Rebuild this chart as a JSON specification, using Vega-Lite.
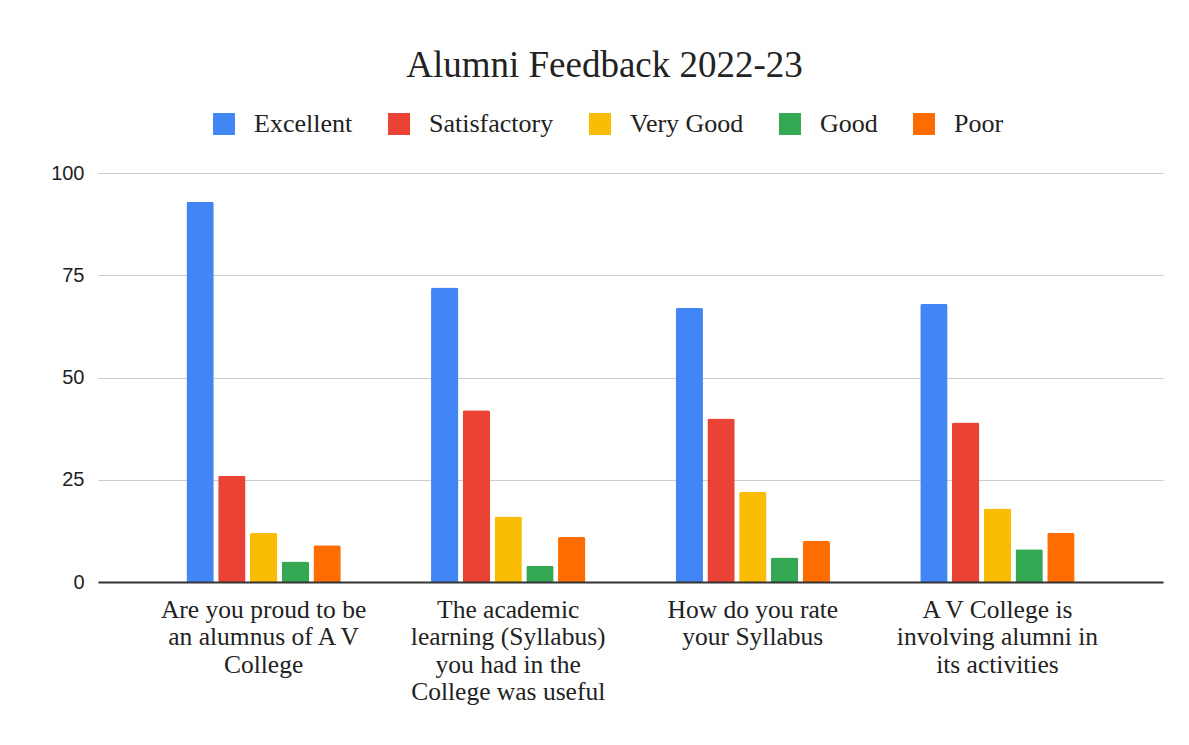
{
  "$schema": "https://vega.github.io/schema/vega-lite/v6.json",
  "width": 1065,
  "height": 409,
  "autosize": {"type": "none"},
  "padding": {"left": 98, "top": 173, "right": 26, "bottom": 163},
  "background": "white",
  "title": {
    "text": "Alumni Feedback 2022-23",
    "font": "Liberation Serif",
    "fontSize": 37,
    "fontWeight": "normal",
    "color": "#222222",
    "anchor": "middle",
    "frame": "group",
    "dx": -26,
    "offset": 26
  },
  "data": {
    "values": [
      {"question": "Are you proud to be an alumnus of A V College", "rating": "Excellent", "count": 93},
      {"question": "Are you proud to be an alumnus of A V College", "rating": "Satisfactory", "count": 26},
      {"question": "Are you proud to be an alumnus of A V College", "rating": "Very Good", "count": 12},
      {"question": "Are you proud to be an alumnus of A V College", "rating": "Good", "count": 5},
      {"question": "Are you proud to be an alumnus of A V College", "rating": "Poor", "count": 9},
      {"question": "The academic learning (Syllabus) you had in the College was useful", "rating": "Excellent", "count": 72},
      {"question": "The academic learning (Syllabus) you had in the College was useful", "rating": "Satisfactory", "count": 42},
      {"question": "The academic learning (Syllabus) you had in the College was useful", "rating": "Very Good", "count": 16},
      {"question": "The academic learning (Syllabus) you had in the College was useful", "rating": "Good", "count": 4},
      {"question": "The academic learning (Syllabus) you had in the College was useful", "rating": "Poor", "count": 11},
      {"question": "How do you rate your Syllabus", "rating": "Excellent", "count": 67},
      {"question": "How do you rate your Syllabus", "rating": "Satisfactory", "count": 40},
      {"question": "How do you rate your Syllabus", "rating": "Very Good", "count": 22},
      {"question": "How do you rate your Syllabus", "rating": "Good", "count": 6},
      {"question": "How do you rate your Syllabus", "rating": "Poor", "count": 10},
      {"question": "A V College is involving alumni in its activities", "rating": "Excellent", "count": 68},
      {"question": "A V College is involving alumni in its activities", "rating": "Satisfactory", "count": 39},
      {"question": "A V College is involving alumni in its activities", "rating": "Very Good", "count": 18},
      {"question": "A V College is involving alumni in its activities", "rating": "Good", "count": 8},
      {"question": "A V College is involving alumni in its activities", "rating": "Poor", "count": 12}
    ]
  },
  "mark": {"type": "bar", "cornerRadiusTopLeft": 2, "cornerRadiusTopRight": 2},
  "encoding": {
    "x": {
      "field": "question",
      "type": "nominal",
      "sort": null,
      "scale": {"paddingInner": 0.369, "paddingOuter": 0.3615},
      "axis": {
        "title": null,
        "labelAngle": 0,
        "ticks": false,
        "domain": true,
        "domainColor": "#333333",
        "domainWidth": 2,
        "labelFont": "Liberation Serif",
        "labelFontSize": 25.5,
        "labelColor": "#222222",
        "labelLineHeight": 27.5,
        "labelPadding": 15,
        "labelLimit": 400,
        "grid": false,
        "zindex": 1,
        "labelExpr": "datum.value == 'Are you proud to be an alumnus of A V College' ? ['Are you proud to be', 'an alumnus of A V', 'College'] : datum.value == 'The academic learning (Syllabus) you had in the College was useful' ? ['The academic', 'learning (Syllabus)', 'you had in the', 'College was useful'] : datum.value == 'How do you rate your Syllabus' ? ['How do you rate', 'your Syllabus'] : ['A V College is', 'involving alumni in', 'its activities']"
      }
    },
    "xOffset": {
      "field": "rating",
      "type": "nominal",
      "sort": ["Excellent", "Satisfactory", "Very Good", "Good", "Poor"],
      "scale": {"paddingInner": 0.139, "paddingOuter": 0}
    },
    "y": {
      "field": "count",
      "type": "quantitative",
      "scale": {"domain": [0, 100], "nice": false},
      "axis": {
        "title": null,
        "values": [0, 25, 50, 75, 100],
        "domain": false,
        "ticks": false,
        "labelFont": "Liberation Sans",
        "labelFontSize": 20,
        "labelColor": "#222222",
        "labelPadding": 14,
        "gridColor": "#cccccc",
        "gridWidth": 1.2
      }
    },
    "color": {
      "field": "rating",
      "type": "nominal",
      "sort": ["Excellent", "Satisfactory", "Very Good", "Good", "Poor"],
      "scale": {
        "domain": ["Excellent", "Satisfactory", "Very Good", "Good", "Poor"],
        "range": ["#4285f4", "#ea4335", "#fbbc04", "#34a853", "#ff6d01"]
      },
      "legend": {
        "title": null,
        "orient": "none",
        "direction": "horizontal",
        "legendX": 113,
        "legendY": -62,
        "symbolType": "square",
        "symbolSize": 484,
        "symbolStrokeWidth": 0,
        "symbolOpacity": 1,
        "labelFont": "Liberation Serif",
        "labelFontSize": 26,
        "labelColor": "#222222",
        "labelOffset": 17,
        "columnPadding": 33,
        "labelLimit": 300
      }
    }
  },
  "config": {
    "view": {"stroke": null}
  }
}
